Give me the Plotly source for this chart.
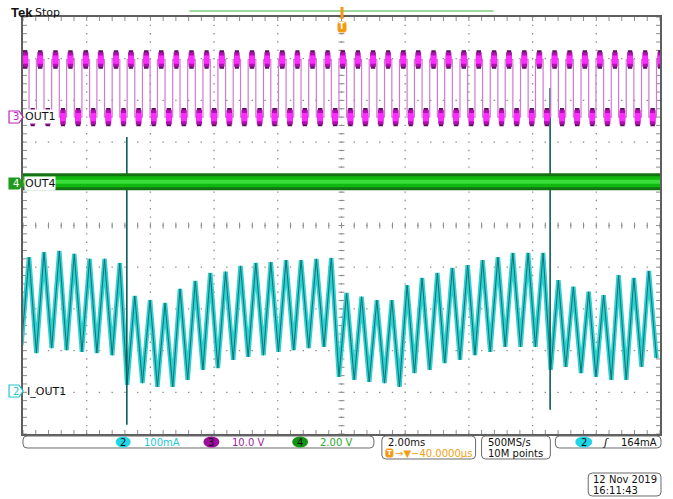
import plotly.graph_objects as go

# capture size and graticule box (pixels)
FIG_W, FIG_H = 673, 499
LEFT, RIGHT, TOP, BOTTOM = 23, 662, 17, 434
FONT = "DejaVu Sans"

# horizontal: 2.00 ms/div, 10 div, trigger at centre; vertical 10 div
TIME_RANGE_MS = [-10.0, 10.0]
DIV_RANGE = [-5.0, 5.0]

# channel scales and ground offsets (in divisions)
CH2_MA_PER_DIV, CH2_OFFSET_DIV = 100.0, -4.0
CH3_V_PER_DIV, CH3_OFFSET_DIV = 10.0, 2.6
CH4_V_PER_DIV, CH4_OFFSET_DIV = 2.0, 1.0

# ch2 I_OUT1: valleys (turn-on) and peaks (turn-off) of the ripple
VALLEY_MS = [-10.05, -9.58, -9.10, -8.63, -8.15, -7.68, -7.20, -6.73, -6.25, -5.78,
             -5.30, -4.83, -4.35, -3.88, -3.40, -2.93, -2.45, -1.98, -1.50, -1.03,
             -0.55, -0.08, 0.40, 0.87, 1.35, 1.82, 2.29, 2.77, 3.24, 3.72,
             4.19, 4.67, 5.14, 5.62, 6.09, 6.57, 7.04, 7.52, 7.99, 8.47,
             8.94, 9.42, 9.89]
VALLEY_MA = [113, 94, 106, 101, 97, 94, 89, 18, 22, 13,
             13, 30, 54, 58, 78, 85, 89, 97, 101, 106,
             109, 37, 30, 25, 22, 13, 46, 54, 70, 78,
             89, 97, 109, 109, 109, 54, 61, 46, 37, 30,
             30, 61, 82]
PEAK_MS = [-9.81, -9.34, -8.86, -8.39, -7.91, -7.44, -6.96, -6.49, -6.01, -5.54,
           -5.07, -4.59, -4.12, -3.64, -3.17, -2.69, -2.22, -1.74, -1.27, -0.79,
           -0.32, 0.16, 0.63, 1.11, 1.58, 2.06, 2.53, 3.01, 3.48, 3.96,
           4.43, 4.91, 5.38, 5.86, 6.33, 6.81, 7.28, 7.76, 8.23, 8.70,
           9.18, 9.65]
PEAK_MA = [324, 336, 339, 332, 320, 320, 310, 231, 221, 214,
           248, 267, 286, 289, 303, 310, 312, 317, 317, 320,
           322, 238, 229, 221, 221, 257, 274, 286, 298, 305,
           317, 324, 334, 334, 334, 269, 253, 241, 233, 281,
           274, 291]

# ch2 switching spikes
SPIKE_MS = [-6.74, 6.55]
SPIKE_TOP_MA = [612, 730]
SPIKE_BOTTOM_MA = [-78, -42]

# ch3 OUT1 levels (V) and the ringing band on each plateau
OUT1_HIGH_V = 13.8
OUT1_LOW_V = 0.0
OUT1_RING_V = 2.2

# ch4 OUT4 level (V)
OUT4_LEVEL_V = 0.1


def to_div(values, per_div, offset):
    # scope vertical scale: physical units -> screen divisions
    return [None if v is None else v / per_div + offset for v in values]


def fx(p):
    return (p - LEFT) / (RIGHT - LEFT)


def fy(p):
    return (BOTTOM - p) / (BOTTOM - TOP)


def P(x, y):
    return f"{fx(x):.5f},{fy(y):.5f}"


def text(x, y, s, color="#111111", size=10, anchor="left", family=FONT, **kw):
    return dict(xref="paper", yref="paper", x=fx(x), y=fy(y), text=s,
                showarrow=False, xanchor=anchor, yanchor="middle",
                font=dict(family=family, size=size, color=color), **kw)


def rbox(x0, y0, x1, y1, r=4, line="#6a6a6a", fill="rgba(0,0,0,0)", width=1):
    path = (f"M{P(x0 + r, y0)} L{P(x1 - r, y0)} Q{P(x1, y0)} {P(x1, y0 + r)} "
            f"L{P(x1, y1 - r)} Q{P(x1, y1)} {P(x1 - r, y1)} L{P(x0 + r, y1)} "
            f"Q{P(x0, y1)} {P(x0, y1 - r)} L{P(x0, y0 + r)} Q{P(x0, y0)} {P(x0 + r, y0)} Z")
    return dict(type="path", xref="paper", yref="paper", path=path,
                line=dict(color=line, width=width), fillcolor=fill)


def tag(x0, y0, x1, y1, line, fill):
    ym = (y0 + y1) / 2
    path = f"M{P(x0, y0)} L{P(x1 - 4, y0)} L{P(x1, ym)} L{P(x1 - 4, y1)} L{P(x0, y1)} Z"
    return dict(type="path", xref="paper", yref="paper", path=path,
                line=dict(color=line, width=1.2), fillcolor=fill)


def pill(x0, x1, yc, fill):
    return dict(type="circle", xref="paper", yref="paper", x0=fx(x0), x1=fx(x1),
                y0=fy(yc + 5.5), y1=fy(yc - 5.5), line=dict(width=0), fillcolor=fill)


def graticule():
    # dotted division lines plus 5 minor ticks per division on frame and centre cross
    xm = (LEFT + RIGHT) / 2
    ym = (TOP + BOTTOM) / 2
    dots, ticks = [], []
    for i in range(1, 10):
        y = TOP + (BOTTOM - TOP) * i / 10
        for j in range(51):
            x = LEFT + (RIGHT - LEFT) * j / 50
            dots.append(f"M{P(x - 0.7, y)} L{P(x + 0.7, y)}")
    for i in range(1, 10):
        x = LEFT + (RIGHT - LEFT) * i / 10
        for j in range(51):
            y = TOP + (BOTTOM - TOP) * j / 50
            dots.append(f"M{P(x, y - 0.7)} L{P(x, y + 0.7)}")
    for i in range(51):
        x = LEFT + (RIGHT - LEFT) * i / 50
        ticks.append(f"M{P(x, TOP)} L{P(x, TOP + 4)}")
        ticks.append(f"M{P(x, BOTTOM)} L{P(x, BOTTOM - 4)}")
        ticks.append(f"M{P(x, ym - 3)} L{P(x, ym + 3)}")
        y = TOP + (BOTTOM - TOP) * i / 50
        ticks.append(f"M{P(LEFT, y)} L{P(LEFT + 4, y)}")
        ticks.append(f"M{P(RIGHT, y)} L{P(RIGHT - 4, y)}")
        ticks.append(f"M{P(xm - 3, y)} L{P(xm + 3, y)}")
    return [
        dict(type="path", xref="paper", yref="paper", path=" ".join(dots),
             line=dict(color="#8c8c8c", width=1.3), layer="below"),
        dict(type="path", xref="paper", yref="paper", path=" ".join(ticks),
             line=dict(color="#8c8c8c", width=1), layer="below"),
    ]


# ---- ch2 current path ----
cur = sorted(zip(VALLEY_MS + PEAK_MS, VALLEY_MA + PEAK_MA))
cur_t = [c[0] for c in cur]
cur_y = to_div([c[1] for c in cur], CH2_MA_PER_DIV, CH2_OFFSET_DIV)

spike_t, spike_i = [], []
for t, hi, lo in zip(SPIKE_MS, SPIKE_TOP_MA, SPIKE_BOTTOM_MA):
    spike_t += [t, t, None]
    spike_i += [hi, lo, None]
spike_y = to_div(spike_i, CH2_MA_PER_DIV, CH2_OFFSET_DIV)

# ---- ch3 square wave: rising at valleys, falling at peaks ----
edges = sorted([(t, OUT1_HIGH_V) for t in VALLEY_MS] + [(t, OUT1_LOW_V) for t in PEAK_MS])
sq_t, sq_v = [TIME_RANGE_MS[0] - 0.5], [OUT1_LOW_V]
level = OUT1_LOW_V
for t, new in edges:
    sq_t += [t, t]
    sq_v += [level, new]
    level = new
sq_t.append(TIME_RANGE_MS[1] + 0.5)
sq_v.append(level)
sq_y = to_div(sq_v, CH3_V_PER_DIV, CH3_OFFSET_DIV)

bounds = [e[0] for e in edges] + [TIME_RANGE_MS[1] + 0.4]


def plateaus(frac, m):
    half = OUT1_RING_V * frac
    xs, vs = [], []
    for (t0, lv), t1 in zip(edges, bounds[1:]):
        a, b = t0 + m, t1 - m
        xs += [a, b, b, a, a, None]
        vs += [lv + half, lv + half, lv - half, lv - half, lv + half, None]
    return xs, to_div(vs, CH3_V_PER_DIV, CH3_OFFSET_DIV)


out4_y = to_div([OUT4_LEVEL_V, OUT4_LEVEL_V], CH4_V_PER_DIV, CH4_OFFSET_DIV)

fig = go.Figure()

# ch2 (cyan)
fig.add_trace(go.Scatter(x=cur_t, y=cur_y, mode="lines",
                         line=dict(color="#2fd0d2", width=4.5), hoverinfo="skip"))
fig.add_trace(go.Scatter(x=cur_t, y=cur_y, mode="lines",
                         line=dict(color="#127272", width=1), hoverinfo="skip"))
fig.add_trace(go.Scatter(x=spike_t, y=spike_y, mode="lines",
                         line=dict(color="#0d5c5c", width=1.6), hoverinfo="skip"))

# ch4 (green band)
for col, w in [("#137313", 17), ("#10b810", 11), ("#3ade3a", 4)]:
    fig.add_trace(go.Scatter(x=TIME_RANGE_MS, y=out4_y, mode="lines",
                             line=dict(color=col, width=w), hoverinfo="skip"))

# ch3 (magenta): edges, then layered plateau bands
fig.add_trace(go.Scatter(x=sq_t, y=sq_y, mode="lines",
                         line=dict(color="#cf7acf", width=1.2), hoverinfo="skip"))
for frac, m, col in [(1.0, 0.05, "#5e1060"), (0.8, 0.03, "#b010b0"), (0.45, 0.03, "#ff2cff")]:
    bx, by = plateaus(frac, m)
    fig.add_trace(go.Scatter(x=bx, y=by, mode="lines", fill="toself",
                             fillcolor=col, line=dict(width=0), hoverinfo="skip"))

frame = dict(showline=True, linecolor="#5e5e5e", linewidth=1.5, mirror=True,
             ticks="", showticklabels=False, zeroline=False, showgrid=False,
             fixedrange=True)

fig.update_layout(
    width=FIG_W, height=FIG_H,
    margin=dict(l=LEFT, r=FIG_W - RIGHT, t=TOP, b=FIG_H - BOTTOM, pad=0),
    paper_bgcolor="white", plot_bgcolor="white", showlegend=False,
    xaxis=dict(range=TIME_RANGE_MS, **frame),
    yaxis=dict(range=DIV_RANGE, **frame),
)

shapes = graticule() + [
    # record view bar and trigger marker
    dict(type="line", xref="paper", yref="paper", x0=fx(190), x1=fx(495), y0=fy(11), y1=fy(11),
         line=dict(color="#7ccc7c", width=1.5)),
    dict(type="line", xref="paper", yref="paper", x0=fx(343), x1=fx(343), y0=fy(7), y1=fy(19),
         line=dict(color="#f39a12", width=3)),
    rbox(339, 22, 347, 32, r=2, line="#f39a12", fill="#f39a12"),
    # channel tags
    tag(9, 111, 23, 123, "#c020c0", "white"),
    tag(9, 178, 23, 189, "#1f9a1f", "#1f9a1f"),
    tag(9, 385, 23, 397, "#22c4d4", "white"),
    # status boxes
    rbox(23, 436, 375, 448),
    rbox(383, 436, 477, 459),
    rbox(483, 436, 552, 459),
    rbox(557, 436, 663, 448),
    rbox(590, 473, 663, 496),
    pill(116, 131, 442, "#1fd6e6"),
    pill(204, 220, 442, "#9c0c9c"),
    pill(293, 309, 442, "#129412"),
    pill(577, 594, 442, "#1fd6e6"),
    rbox(387, 449, 394, 457, r=1.5, line="#f39a12", fill="#f39a12"),
]

annotations = [
    text(9, 12, "<b>Tek</b>", size=13, family="Liberation Sans"),
    text(33, 12, "Stop", size=11),
    text(343, 27, "<b>T</b>", color="white", size=8, anchor="center"),
    text(16, 117, "3", color="#c020c0", size=10, anchor="center"),
    text(24, 117, "OUT1", size=11, bgcolor="white", borderpad=0),
    text(16, 183.5, "4", color="white", size=10, anchor="center"),
    text(24, 183.5, "OUT4", size=11, bgcolor="white", borderpad=0),
    text(16, 391, "2", color="#22c4d4", size=10, anchor="center"),
    text(25, 391, "I_OUT1", size=11),
    text(123.5, 442, "2", size=10, anchor="center"),
    text(142, 442, "100mA", color="#22c8d8", size=10),
    text(212, 442, "3", size=10, anchor="center"),
    text(231, 442, "10.0 V", color="#a21ea2", size=10),
    text(301, 442, "4", size=10, anchor="center"),
    text(319, 442, "2.00 V", color="#2ea82e", size=10),
    text(387, 442, "2.00ms", size=10),
    text(390.5, 453, "<b>T</b>", color="white", size=7, anchor="center"),
    text(394, 453, "→▼−40.0000µs", color="#f0a010", size=10),
    text(487, 442, "500MS/s", size=10),
    text(487, 453, "10M points", size=10),
    text(585.5, 442, "2", size=10, anchor="center"),
    text(602, 442, "<i>ʃ</i>", size=11),
    text(621, 442, "164mA", size=10),
    text(593, 479, "12 Nov 2019", size=10),
    text(593, 490, "16:11:43", size=10),
]

fig.update_layout(shapes=shapes, annotations=annotations)

fig.write_html("out.html", config={"displayModeBar": False},
               post_script="document.body.style.margin='0';")
